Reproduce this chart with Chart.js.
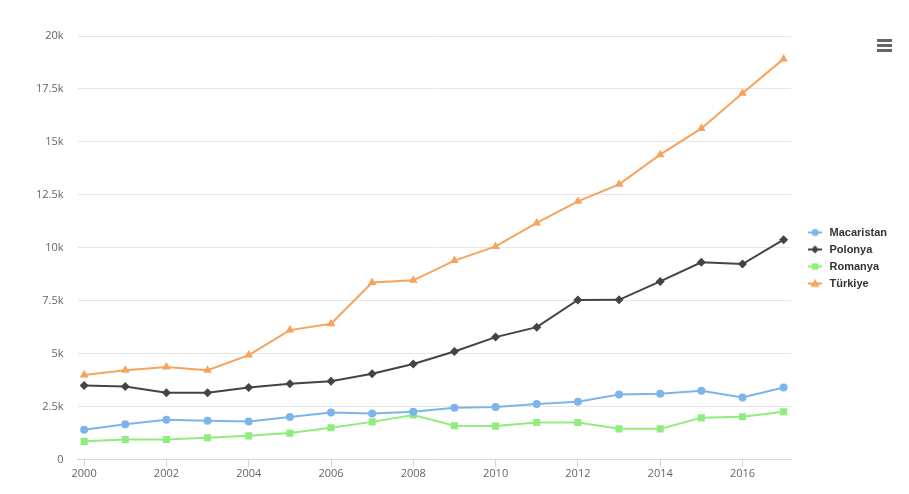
<!DOCTYPE html>
<html lang="tr">
<head>
    <meta charset="UTF-8">
    <title>Macaristan, Polonya, Romanya, Türkiye</title>
    <script src="https://cdn.jsdelivr.net/npm/chart.js"></script>
    <style>
        body {
            margin: 0;
            background: #fff;
            overflow: hidden;
        }
        .wrap {
            position: relative;
            width: 909px;
            height: 494px;
        }
        .menu {
            position: absolute;
            left: 877px;
            top: 39px;
            width: 15px;
        }
        .menu span {
            display: block;
            height: 2.5px;
            margin-bottom: 2.5px;
            background: #666;
        }
    </style>
</head>
<body>
<div class="wrap">
    <canvas id="chart" width="909" height="494"></canvas>
    <div class="menu"><span></span><span></span><span></span></div>
</div>
<script>
    const years = [2000, 2001, 2002, 2003, 2004, 2005, 2006, 2007, 2008, 2009, 2010, 2011, 2012, 2013, 2014, 2015, 2016, 2017];
    const xTicks = [2000, 2002, 2004, 2006, 2008, 2010, 2012, 2014, 2016];
    const seriesNames = ['Macaristan', 'Polonya', 'Romanya', 'Türkiye'];
    const macaristan = [1420, 1680, 1890, 1840, 1810, 2020, 2230, 2190, 2270, 2460, 2490, 2630, 2740, 3080, 3120, 3260, 2940, 3410];
    const polonya = [3510, 3460, 3160, 3160, 3410, 3590, 3710, 4060, 4520, 5110, 5790, 6260, 7540, 7550, 8420, 9320, 9240, 10390];
    const romanya = [870, 960, 960, 1040, 1130, 1260, 1510, 1790, 2110, 1610, 1590, 1760, 1760, 1460, 1460, 1980, 2030, 2270];
    const turkiye = [4000, 4230, 4380, 4230, 4940, 6120, 6420, 8370, 8470, 9400, 10070, 11180, 12200, 13000, 14400, 15640, 17300, 18920];

    const colors = ['#7cb5ec', '#434348', '#90ed7d', '#f7a35c'];
    const styles = ['circle', 'rectRot', 'rect', 'triangle'];
    const radii = [4, 4.5, 5, 5];

    // legend symbol: short line with the marker on it, some blank room on the left
    const ICON_W = 27;
    function legendIcon(color, style, r) {
        const c = document.createElement('canvas');
        c.width = ICON_W; c.height = 12;
        const g = c.getContext('2d');
        const x0 = 11, x1 = 25, cx = (x0 + x1) / 2;
        g.strokeStyle = color;
        g.lineWidth = 2;
        g.beginPath(); g.moveTo(x0, 6); g.lineTo(x1, 6); g.stroke();
        g.fillStyle = color;
        g.beginPath();
        if (style === 'circle') g.arc(cx, 6, r, 0, Math.PI * 2);
        else if (style === 'rectRot') { g.moveTo(cx, 6 - r); g.lineTo(cx + r, 6); g.lineTo(cx, 6 + r); g.lineTo(cx - r, 6); }
        else if (style === 'rect') { const s = r * Math.SQRT1_2; g.rect(cx - s, 6 - s, 2 * s, 2 * s); }
        else { g.moveTo(cx, 6 - r); g.lineTo(cx + r, 6 + r * 0.7); g.lineTo(cx - r, 6 + r * 0.7); }
        g.closePath();
        g.fill();
        return c;
    }

    const values = [macaristan, polonya, romanya, turkiye];
    const datasets = seriesNames.map((name, i) => ({
        label: name,
        data: years.map((y, j) => ({x: y, y: values[i][j]})),
        borderColor: colors[i],
        backgroundColor: colors[i],
        pointBackgroundColor: colors[i],
        pointBorderWidth: 0,
        pointStyle: styles[i],
        pointRadius: radii[i],
        borderWidth: 2,
        tension: 0
    }));

    const icons = seriesNames.map((n, i) => legendIcon(colors[i], styles[i], radii[i] - 0.5));

    new Chart(document.getElementById('chart'), {
        type: 'line',
        data: {datasets: datasets},
        options: {
            responsive: false,
            animation: false,
            layout: {padding: {left: 22, right: 12, top: 36, bottom: 14}},
            plugins: {
                legend: {
                    position: 'right',
                    align: 'center',
                    labels: {
                        usePointStyle: true,
                        pointStyleWidth: ICON_W,
                        padding: 6,
                        color: '#333333',
                        font: {family: 'Liberation Sans', size: 11, weight: 'bold'},
                        generateLabels: chart => chart.data.datasets.map((d, i) => ({
                            text: d.label,
                            pointStyle: icons[i],
                            fillStyle: d.borderColor,
                            strokeStyle: d.borderColor,
                            lineWidth: 0,
                            fontColor: '#333333',
                            datasetIndex: i
                        }))
                    }
                },
                tooltip: {enabled: false}
            },
            scales: {
                x: {
                    type: 'linear',
                    min: 1999.84,
                    max: 2017.18,
                    afterBuildTicks: axis => { axis.ticks = xTicks.map(v => ({value: v})); },
                    border: {color: '#ccd6eb', width: 1},
                    grid: {drawOnChartArea: false, color: '#ccd6eb', tickLength: 7},
                    ticks: {
                        color: '#666666',
                        font: {family: 'Open Sans', size: 11},
                        padding: 0,
                        maxRotation: 0,
                        callback: v => String(v)
                    }
                },
                y: {
                    min: 0,
                    max: 20000,
                    border: {display: false},
                    grid: {color: '#e6e6e6', drawTicks: false},
                    ticks: {
                        stepSize: 2500,
                        color: '#666666',
                        font: {family: 'Open Sans', size: 11},
                        padding: 14,
                        callback: v => v === 0 ? '0' : (v / 1000) + 'k'
                    }
                }
            }
        }
    });
</script>
</body>
</html>
